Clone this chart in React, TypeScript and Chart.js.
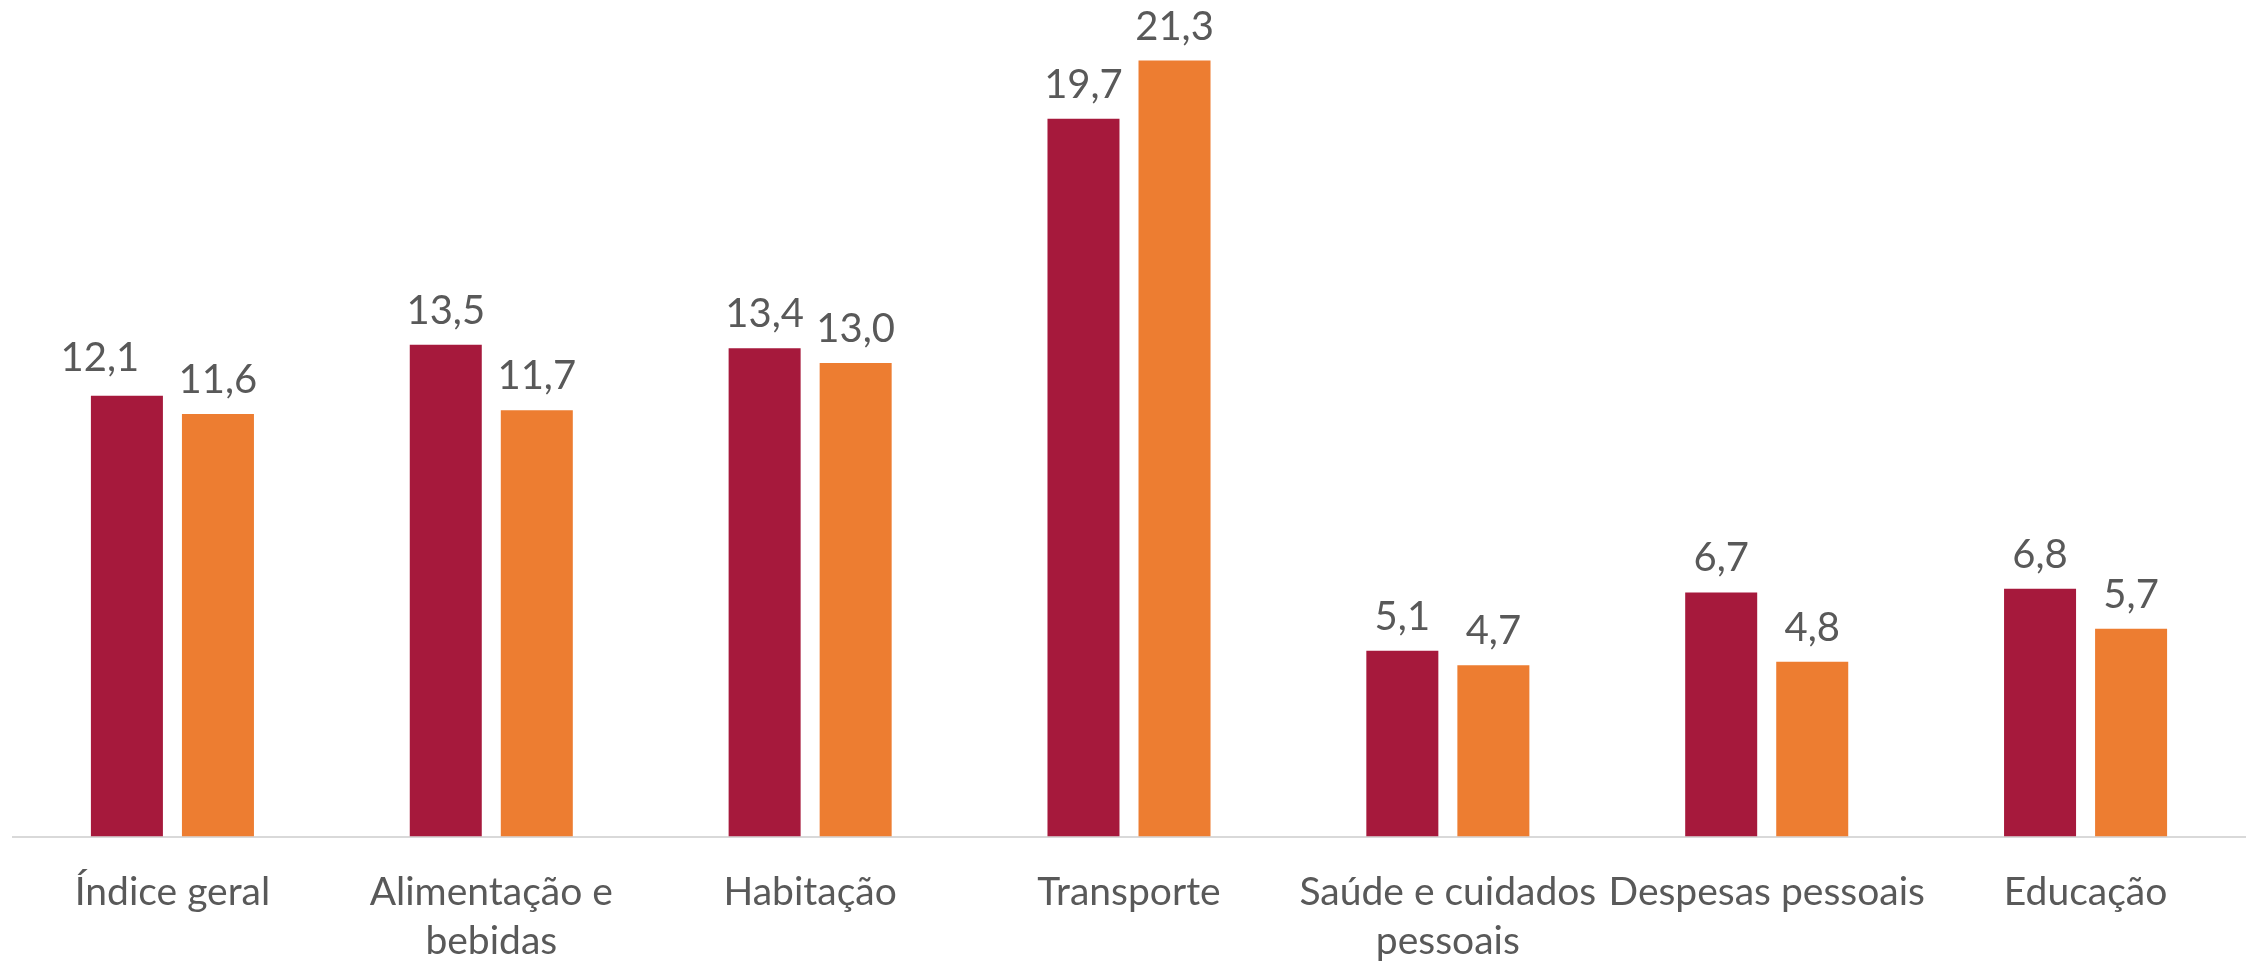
import React, { useEffect, useRef } from "react";
import { Chart, registerables } from "chart.js";

Chart.register(...registerables);

const categories: (string | string[])[] = [
  "Índice geral",
  ["Alimentação e", "bebidas"],
  "Habitação",
  "Transporte",
  ["Saúde e cuidados", "pessoais"],
  "Despesas pessoais",
  "Educação",
];
const seriesA: number[] = [12.1, 13.5, 13.4, 19.7, 5.1, 6.7, 6.8];
const seriesB: number[] = [11.6, 11.7, 13.0, 21.3, 4.7, 4.8, 5.7];
const seriesNames: string[] = ["Série 1", "Série 2"];

const FONT = "Lato, 'Open Sans', sans-serif";
const TEXT = "#595959";

// the first label was nudged left/up in the original
const labelNudge: Record<string, { dx: number; dy: number }> = {
  "0-0": { dx: -27, dy: -4 },
};

const valueLabels = {
  id: "valueLabels",
  afterDatasetsDraw(chart: any) {
    const ctx = chart.ctx;
    ctx.save();
    ctx.font = `40px ${FONT}`;
    ctx.fillStyle = TEXT;
    ctx.textAlign = "center";
    ctx.textBaseline = "alphabetic";
    chart.data.datasets.forEach((ds: any, di: number) => {
      const meta = chart.getDatasetMeta(di);
      meta.data.forEach((bar: any, i: number) => {
        const v = ds.data[i] as number;
        const txt = v.toFixed(1).replace(".", ",");
        const n = labelNudge[`${di}-${i}`] || { dx: 0, dy: 0 };
        ctx.fillText(txt, bar.x + n.dx, bar.y - 21 + n.dy);
      });
    });
    ctx.restore();
  },
};

export default function App() {
  const ref = useRef<HTMLCanvasElement | null>(null);
  useEffect(() => {
    if (!ref.current) return;
    const chart = new Chart(ref.current, {
      type: "bar",
      data: {
        labels: categories,
        datasets: [
          {
            label: seriesNames[0],
            data: seriesA,
            backgroundColor: "#A6193C",
            categoryPercentage: 0.571,
            barPercentage: 0.791,
          },
          {
            label: seriesNames[1],
            data: seriesB,
            backgroundColor: "#ED7D31",
            categoryPercentage: 0.571,
            barPercentage: 0.791,
          },
        ],
      },
      options: {
        animation: false,
        responsive: false,
        maintainAspectRatio: false,
        layout: { padding: { top: 27, left: 5, right: 3, bottom: 0 } },
        plugins: {
          legend: { display: false },
          tooltip: { enabled: false },
        },
        scales: {
          y: {
            display: false,
            min: 0,
            max: 22,
          },
          x: {
            grid: { display: false, drawTicks: false },
            border: { display: true, color: "#D9D9D9", width: 2 },
            ticks: {
              color: TEXT,
              font: { family: FONT, size: 39, lineHeight: 1.25 },
              padding: 32,
              maxRotation: 0,
              minRotation: 0,
              autoSkip: false,
            },
          },
        },
      },
      plugins: [valueLabels],
    });
    return () => chart.destroy();
  }, []);
  return (
    <div style={{ position: "fixed", left: 8, top: 8, width: 2240, height: 990 }}>
      <canvas ref={ref} width={2240} height={990} />
    </div>
  );
}
